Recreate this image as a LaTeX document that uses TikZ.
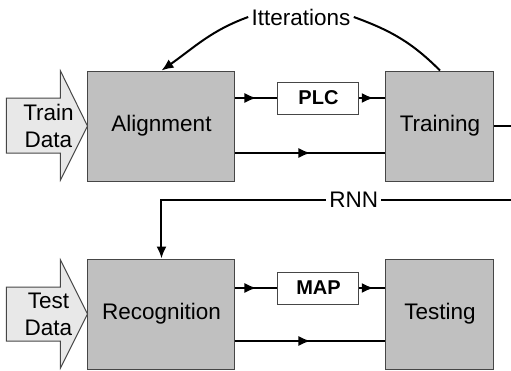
\documentclass[tikz,border=0pt]{standalone}
\usepackage{fontspec}
\setmainfont{Liberation Sans}
\usetikzlibrary{arrows.meta,decorations.markings}

\definecolor{boxgray}{RGB}{192,192,192}
\definecolor{datagray}{RGB}{232,232,232}
\definecolor{edgegray}{RGB}{70,70,70}

\tikzset{
  stage/.style={draw=edgegray, line width=0.5pt, fill=boxgray, minimum height=55pt, inner sep=0pt},
  tagbox/.style={draw=edgegray, line width=0.5pt, fill=white, minimum width=40.5pt, minimum height=16pt, inner sep=0pt, font=\bfseries},
  conn/.style={line width=1pt},
  tip/.style={-{Latex[length=6pt,width=5pt]}},
  midarrow/.style={postaction={decorate}, decoration={markings,
      mark=at position #1 with {\arrow{Latex[length=6pt,width=5pt]}}}},
  midarrow/.default=0.55,
  datashape/.style={draw=edgegray, line width=0.5pt, fill=datagray},
  lbl/.style={fill=white, inner sep=1.5pt}
}

\begin{document}
\begin{tikzpicture}[x=0.5pt,y=-0.5pt,font=\fontsize{11.25}{13.5}\selectfont]
        \useasboundingbox (0,0) rectangle (511,371);

        % Processing stages
        \node[stage, minimum width=73.5pt] (align) at (161.5,126) {Alignment};
        \node[stage, minimum width=54pt] (train) at (440,126) {Training};
        \node[stage, minimum width=73.5pt] (recog) at (161.5,314) {Recognition};
        \node[stage, minimum width=54pt] (test) at (440,314) {Testing};

        % Small boxes between stages
        \node[tagbox] (plc) at (318.5,98) {PLC};
        \node[tagbox] (map) at (318.5,288) {MAP};

        % Input arrows and labels
        \draw[datashape] (align.west) -- ++(-27,-55) -- ++(0,27) -- ++(-54,0) -- ++(0,55) -- ++(54,0) -- ++(0,27) -- cycle;
        \node[align=center, inner sep=0pt] (traindata) at (48.5,126) {Train\\Data};
        \draw[datashape] (recog.west) -- ++(-27,-54) -- ++(0,27) -- ++(-54,0) -- ++(0,54) -- ++(54,0) -- ++(0,27) -- cycle;
        \node[align=center, inner sep=0pt] (testdata) at (48.5,314) {Test\\Data};

        % Connections in the training row
        \draw[conn, midarrow=0.5] (align.east |- plc.west) -- (plc.west);
        \draw[conn, midarrow=0.55] (plc.east) -- (train.west |- plc.east);
        \draw[conn, midarrow=0.5] ([yshift=-13.5pt]align.east) -- ([yshift=-13.5pt]train.west);

        % Connections in the testing row
        \draw[conn, midarrow=0.5] (recog.east |- map.west) -- (map.west);
        \draw[conn, midarrow=0.55] (map.east) -- (test.west |- map.east);
        \draw[conn, midarrow=0.5] ([yshift=-13.5pt]recog.east) -- ([yshift=-13.5pt]test.west);

        % Iteration loop
        \node[lbl] (iter) at (301,17) {Itterations};
        \draw[conn] (train.north) to[out=135, in=-20] (iter.east);
        \draw[conn, tip] (iter.west) to[out=200, in=35] (align.north);

        % Model passed on to recognition
        \coordinate (outr) at (511,126);
        \coordinate (inr) at (511,200);
        \draw[conn] (train.east) -- (outr);
        \draw[conn, tip] (inr) -- node[lbl, pos=0.45] (rnn) {RNN} (recog.north |- inr) -- (recog.north);
      \end{tikzpicture}
\end{document}
